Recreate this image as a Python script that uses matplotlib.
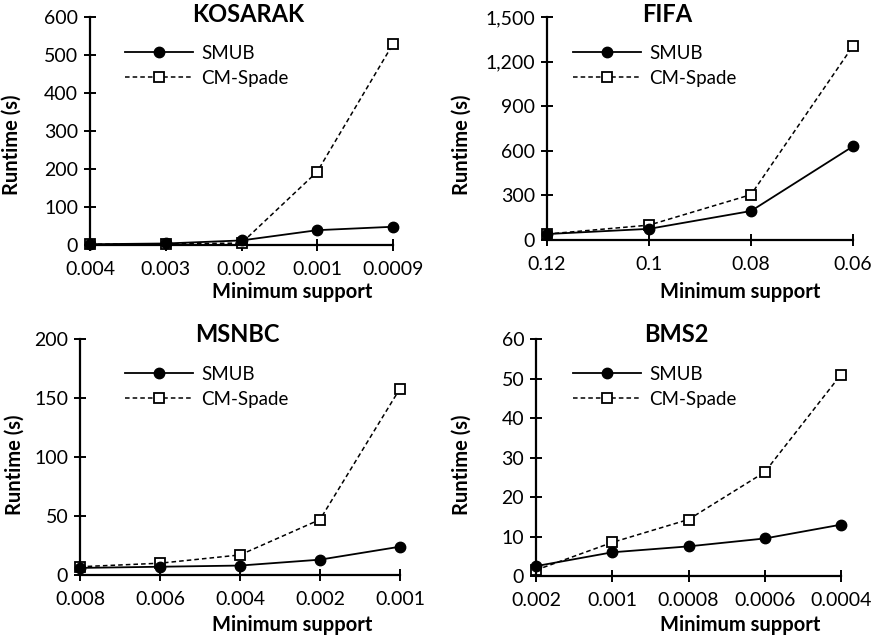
import matplotlib
matplotlib.use("Agg")
import matplotlib.pyplot as plt

plt.rcParams['font.family'] = ['Lato', 'DejaVu Sans']

# ---- data ----
kos_x = ["0.004", "0.003", "0.002", "0.001", "0.0009"]
kos_smub = [2, 4, 12, 39, 48]
kos_cm = [2, 3, 5, 193, 529]
kos_yticks = [0, 100, 200, 300, 400, 500, 600]
kos_ylabels = ["0", "100", "200", "300", "400", "500", "600"]

fifa_x = ["0.12", "0.1", "0.08", "0.06"]
fifa_smub = [40, 75, 195, 630]
fifa_cm = [40, 100, 305, 1305]
fifa_yticks = [0, 300, 600, 900, 1200, 1500]
fifa_ylabels = ["0", "300", "600", "900", "1,200", "1,500"]

msn_x = ["0.008", "0.006", "0.004", "0.002", "0.001"]
msn_smub = [6, 7, 8, 13, 24]
msn_cm = [7, 10, 17, 47, 158]
msn_yticks = [0, 50, 100, 150, 200]
msn_ylabels = ["0", "50", "100", "150", "200"]

bms_x = ["0.002", "0.001", "0.0008", "0.0006", "0.0004"]
bms_smub = [2.5, 6, 7.5, 9.5, 13]
bms_cm = [1.5, 8.5, 14.3, 26.3, 51]
bms_yticks = [0, 10, 20, 30, 40, 50, 60]
bms_ylabels = ["0", "10", "20", "30", "40", "50", "60"]

titles = ["KOSARAK", "FIFA", "MSNBC", "BMS2"]

W, H = 875, 638
fig = plt.figure(figsize=(W / 100, H / 100), dpi=100)

def px_rect(l, r, t, b):
    return [l / W, 1 - b / H, (r - l) / W, (b - t) / H]

panels = [
    dict(rect=(90, 393, 17, 245), x=kos_x, s=kos_smub, c=kos_cm, yt=kos_yticks, yl=kos_ylabels,
         title=(248, 14), xlab=(292, 292), ylab=(12, 145), leg=(125, 45)),
    dict(rect=(547, 853, 17, 240), x=fifa_x, s=fifa_smub, c=fifa_cm, yt=fifa_yticks, yl=fifa_ylabels,
         title=(667, 14), xlab=(740, 292), ylab=(462, 145), leg=(573, 45)),
    dict(rect=(80, 400, 339, 575), x=msn_x, s=msn_smub, c=msn_cm, yt=msn_yticks, yl=msn_ylabels,
         title=(237, 335), xlab=(292, 625), ylab=(15, 465), leg=(125, 366)),
    dict(rect=(536, 841, 339, 576), x=bms_x, s=bms_smub, c=bms_cm, yt=bms_yticks, yl=bms_ylabels,
         title=(676, 335), xlab=(740, 625), ylab=(462, 465), leg=(573, 366)),
]

for p, title in zip(panels, titles):
    l, r, t, b = p["rect"]
    ax = fig.add_axes(px_rect(l, r, t, b))
    n = len(p["x"])
    xs = list(range(n))
    ax.plot(xs, p["s"], color="black", lw=1.3, marker="o", ms=7.5,
            markerfacecolor="black", label="SMUB", clip_on=False, zorder=3)
    ax.plot(xs, p["c"], color="black", lw=1.1, ls=(0, (3, 2)), marker="s", ms=7,
            markerfacecolor="white", markeredgewidth=1.3, label="CM-Spade", clip_on=False, zorder=2)
    ax.set_xlim(0, n - 1)
    ax.set_ylim(p["yt"][0], p["yt"][-1])
    ax.set_xticks(xs)
    ax.set_xticklabels(p["x"])
    ax.set_yticks(p["yt"])
    ax.set_yticklabels(p["yl"])
    for s in ["top", "right"]:
        ax.spines[s].set_visible(False)
    for s in ["left", "bottom"]:
        ax.spines[s].set_linewidth(1.6)
        ax.spines[s].set_color("black")
    ax.tick_params(axis="both", direction="inout", length=9, width=1.4, labelsize=14,
                   colors="black")
    ax.tick_params(axis="x", pad=7)
    ax.tick_params(axis="y", pad=4)
    ax.patch.set_alpha(0)
    fig.text(p["title"][0] / W, 1 - p["title"][1] / H, title, ha="center", va="center",
             fontsize=17, fontweight="bold")
    fig.text(p["xlab"][0] / W, 1 - p["xlab"][1] / H, "Minimum support", ha="center", va="center",
             fontsize=14.5, fontweight="bold")
    fig.text(p["ylab"][0] / W, 1 - p["ylab"][1] / H, "Runtime (s)", ha="center", va="center",
             fontsize=14.5, fontweight="bold", rotation=90)
    ax.legend(loc="upper left", bbox_to_anchor=(p["leg"][0] / W, 1 - p["leg"][1] / H),
              bbox_transform=fig.transFigure, frameon=False, fontsize=13.5,
              handlelength=3.6, handletextpad=0.45, borderpad=0, borderaxespad=0,
              labelspacing=0.42)

fig.savefig("out.png", dpi=100)
